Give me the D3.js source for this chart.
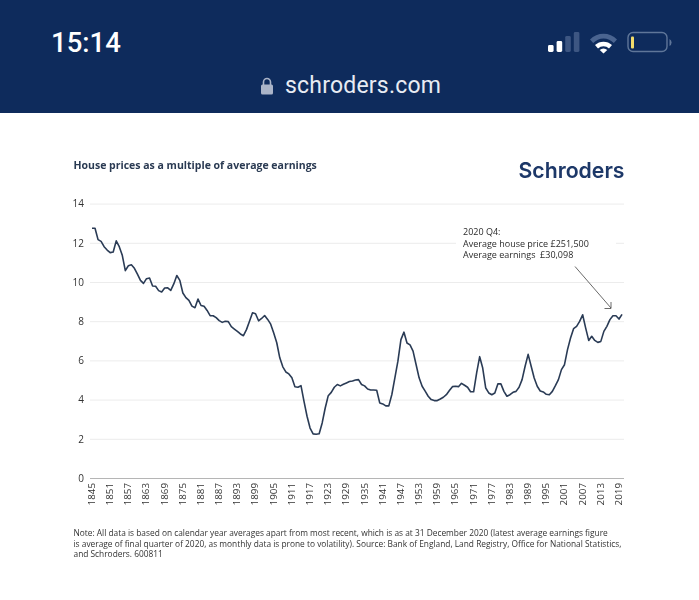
<!DOCTYPE html>
<html><head><meta charset="utf-8">
<script src="https://cdnjs.cloudflare.com/ajax/libs/d3/7.8.5/d3.min.js"></script>
<style>html,body{margin:0;padding:0;background:#fff}svg{display:block}</style>
</head><body><svg id="c" width="699" height="600"></svg>
<script>
const startYear = 1845;
const values = [
12.74,12.74,12.16,12.07,11.8,11.63,11.5,11.53,12.1,11.8,11.36,10.58,10.83,10.88,10.7,
10.4,10.08,9.93,10.17,10.2,9.8,9.78,9.56,9.49,9.69,9.7,9.57,9.9,10.33,10.08,
9.44,9.2,9.06,8.77,8.69,9.13,8.8,8.76,8.55,8.28,8.28,8.18,8.03,7.94,8.0,
7.98,7.72,7.6,7.48,7.35,7.26,7.57,8.0,8.43,8.38,8.02,8.14,8.29,8.09,7.85,
7.4,6.9,6.13,5.67,5.41,5.31,5.11,4.66,4.63,4.71,3.91,3.15,2.55,2.25,2.23,
2.26,2.81,3.57,4.2,4.37,4.63,4.77,4.7,4.78,4.85,4.92,4.95,5.0,5.02,4.77,
4.7,4.54,4.49,4.49,4.48,3.83,3.78,3.68,3.68,4.26,5.11,5.96,7.06,7.44,6.89,
6.79,6.47,5.79,5.11,4.68,4.43,4.17,4.0,3.95,3.95,4.03,4.12,4.25,4.46,4.66,
4.68,4.66,4.83,4.73,4.63,4.4,4.4,5.36,6.19,5.61,4.59,4.34,4.25,4.34,4.8,
4.8,4.42,4.17,4.25,4.37,4.42,4.63,5.02,5.7,6.31,5.7,5.1,4.68,4.44,4.39,
4.27,4.25,4.42,4.71,5.02,5.53,5.78,6.55,7.14,7.62,7.74,7.99,8.33,7.65,7.02,
7.23,7.02,6.92,6.97,7.48,7.74,8.08,8.28,8.28,8.11,8.35];
const years = values.map((_, i) => startYear + i);
const yTicks = [0,2,4,6,8,10,12,14];
const xTicks = d3.range(1845, 2020, 6);
const titleText = "House prices as a multiple of average earnings";
const noteLines = [
"Note: All data is based on calendar year averages apart from most recent, which is as at 31 December 2020 (latest average earnings figure",
"is average of final quarter of 2020, as monthly data is prone to volatility). Source: Bank of England, Land Registry, Office for National Statistics,",
"and Schroders. 600811"];
const calloutLines = ["2020 Q4:","Average house price £251,500","Average earnings  £30,098"];
const signalBars = [0,1,2,3];
const signalHeights = [7,11,16,20];

const font = "'Open Sans','Noto Sans',sans-serif";
const svg = d3.select("#c");
const defs = svg.append("defs");
defs.append("filter").attr("id","soft").append("feGaussianBlur").attr("stdDeviation",0.35);

// phone header
const hdr = svg.append("g");
hdr.append("rect").attr("width",699).attr("height",113).attr("fill","#0e2b5c");
hdr.append("text").attr("x",51).attr("y",52).attr("font-family","Roboto,Inter,sans-serif")
  .attr("font-size",27.5).attr("font-weight",500).attr("fill","#fff").text("15:14");
hdr.append("text").attr("x",285).attr("y",93).attr("font-family","Roboto,Inter,sans-serif")
  .attr("font-size",23).attr("letter-spacing",0.2).attr("fill","#e8ecf3").text("schroders.com");
hdr.append("rect").attr("x",261).attr("y",84.5).attr("width",12).attr("height",10).attr("rx",1.5).attr("fill","#aab4c8");
hdr.append("path").attr("d","M263.5 85V82a3.5 3.5 0 0 1 7 0V85").attr("fill","none").attr("stroke","#aab4c8").attr("stroke-width",1.6);
hdr.selectAll("rect.sig").data(signalBars).join("rect").attr("class","sig")
  .attr("x",d=>548+d*8.6).attr("width",5.6).attr("rx",1.4)
  .attr("y",d=>52-signalHeights[d]).attr("height",d=>signalHeights[d])
  .attr("fill",d=>d<2?"#fff":"#3d5682");
hdr.append("path").attr("d","M590 39.5a19 19 0 0 1 27 0l-3.2 3.6a14 14 0 0 0-20.6 0Z").attr("fill","#4a6490");
hdr.append("path").attr("d","M595 45a12.5 12.5 0 0 1 17 0l-3 3.4a8 8 0 0 0-11 0Z").attr("fill","#fff");
hdr.append("path").attr("d","M599.7 50a5.3 5.3 0 0 1 7.6 0L603.5 53.5Z").attr("fill","#fff");
hdr.append("rect").attr("x",628).attr("y",32.5).attr("width",39).attr("height",19).attr("rx",5).attr("fill","none").attr("stroke","#5f7699").attr("stroke-width",1.4);
hdr.append("rect").attr("x",631).attr("y",36.5).attr("width",3).attr("height",12).attr("rx",1).attr("fill","#f3dc6b");
hdr.append("path").attr("d","M669.5 39a4 4 0 0 1 0 7Z").attr("fill","#5f7699");

// chart
const x = d3.scaleLinear().domain([1845,2019]).range([92,619]);
const y = d3.scaleLinear().domain([0,14]).range([478,203.6]);
const g = svg.append("g").attr("filter","url(#soft)");

g.append("text").attr("x",73.5).attr("y",169).attr("font-family",font).attr("font-size",10.5)
  .attr("font-weight",700).attr("fill","#2a3a52").text(titleText);
g.append("text").attr("x",518.5).attr("y",178).attr("font-family","Inter,"+font).attr("font-size",22)
  .attr("font-weight",600).attr("fill","#1d3768").attr("textLength",106).attr("lengthAdjust","spacingAndGlyphs").text("Schroders");

const yAxis = d3.axisLeft(y).tickValues(yTicks).tickSize(-(624-90)).tickPadding(6);
const ya = g.append("g").attr("transform","translate(90,0)").call(yAxis);
ya.select(".domain").remove();
ya.selectAll("line").attr("stroke",d=>d===0?"#b5b5b5":"#ececec").attr("stroke-width",1);
ya.selectAll("text").attr("font-family",font).attr("font-size",10).attr("fill","#333").attr("x",-6);

const xAxis = d3.axisBottom(x).tickValues(xTicks).tickFormat(d3.format("d")).tickSize(0);
const xa = g.append("g").attr("transform","translate(-1,478)").call(xAxis);
xa.select(".domain").remove();
xa.selectAll("text").attr("font-family",font).attr("font-size",9.8).attr("fill","#333")
  .attr("transform","rotate(-90)").attr("text-anchor","end").attr("dy","0.35em").attr("x",-5).attr("y",0);

g.append("rect").attr("x",456).attr("y",238).attr("width",160).attr("height",8).attr("fill","#fff");

const line = d3.line().x((d,i)=>x(years[i])).y(d=>y(d));
g.append("path").datum(values).attr("d",line).attr("fill","none").attr("stroke","#2a3b55")
  .attr("stroke-width",1.6).attr("stroke-linejoin","round");

const callout = g.append("text").attr("font-family",font).attr("font-size",9)
  .attr("fill","#2b2b2b").style("white-space","pre");
callout.selectAll("tspan").data(calloutLines).join("tspan")
  .attr("x",463).attr("y",(d,i)=>235+i*11.5).text(d=>d);

g.append("path").attr("d","M575 266.5L611 308M604.5 308.5L611 308.5L611 302").attr("fill","none").attr("stroke","#444").attr("stroke-width",0.8);

const note = g.append("text").attr("font-family",font).attr("font-size",8.35).attr("fill","#333");
note.selectAll("tspan").data(noteLines).join("tspan")
  .attr("x",73.5).attr("y",(d,i)=>536+i*10.6).text(d=>d);
</script></body></html>
